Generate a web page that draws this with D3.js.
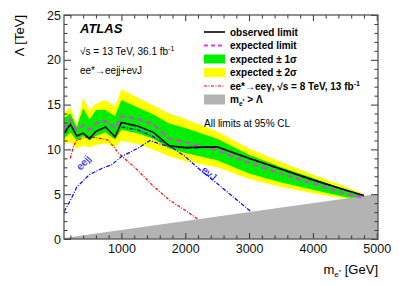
<!DOCTYPE html>
<html>
<head>
<meta charset="utf-8">
<script src="https://cdn.jsdelivr.net/npm/d3@7"></script>
<style>
  body { margin: 0; background: #fff; }
  svg { display: block; font-family: "Liberation Sans", Arial, Helvetica, sans-serif; }
  .axis line { stroke: #333; }
  .axis path { display: none; }
  .axis text { font-size: 12.5px; fill: #111; }
</style>
</head>
<body>
<div id="chart"></div>
<script>
// mass points (GeV) and limits on Lambda (TeV)
const mass     = [100, 200, 300, 400, 500, 600, 750, 900, 1000, 1250, 1500, 1750, 2000, 2500, 3000, 3500, 4000, 4500, 4800];
const observed = [11.8, 12.8, 11.5, 11.8, 11.2, 12.0, 12.5, 11.4, 13.0, 12.6, 11.9, 10.4, 10.2, 10.3, 9.0, 7.8, 6.6, 5.5, 4.85];
const expected = [12.3, 13.3, 12.2, 12.7, 12.2, 12.9, 13.2, 12.4, 13.7, 13.4, 12.8, 11.2, 10.8, 9.9, 8.5, 7.3, 6.2, 5.1, 4.55];
const sig2Up   = [14.1, 14.7, 12.8, 15.8, 14.4, 15.1, 15.5, 14.8, 16.7, 15.8, 14.9, 14.0, 13.4, 12.0, 10.1, 8.6, 7.2, 5.9, 5.0];
const sig1Up   = [13.5, 14.0, 12.5, 14.6, 13.3, 14.4, 14.4, 13.7, 15.5, 14.7, 13.9, 12.9, 12.4, 11.2, 9.4, 8.0, 6.8, 5.5, 4.85];
const sig1Dn   = [11.2, 11.9, 11.0, 11.5, 11.0, 11.5, 11.9, 11.1, 12.2, 11.8, 11.2, 10.1, 9.6, 8.8, 7.3, 6.3, 5.5, 4.7, 4.4];
const sig2Dn   = [10.6, 10.8, 10.1, 10.4, 10.2, 10.5, 10.7, 10.2, 11.0, 10.6, 10.0, 9.2, 8.7, 8.0, 6.7, 5.8, 5.1, 4.5, 4.3];

// 8 TeV ee* -> ee gamma limit
const run1Mass   = [200, 250, 300, 400, 500, 600, 700, 800, 900, 950, 1000, 1250, 1500, 1750, 2000, 2200];
const run1Lambda = [9.0, 10.4, 11.0, 11.3, 11.4, 11.3, 11.2, 11.0, 10.1, 9.6, 9.3, 7.7, 5.9, 4.35, 3.2, 2.2];

// individual channels
const eejjMass   = [100, 200, 300, 500, 700, 850, 1000, 1250, 1450, 1600, 1750, 2000, 2500, 3000, 3500, 4000, 4500, 4800];
const eejjLambda = [3.05, 4.3, 5.8, 7.2, 7.9, 8.3, 9.2, 10.1, 11.0, 10.6, 10.3, 10.15, 10.25, 8.95, 7.75, 6.55, 5.45, 4.8];
const evjMass    = [1000, 1250, 1500, 1750, 2000, 2250, 2500, 2750, 3030];
const evjLambda  = [12.5, 12.2, 11.4, 10.4, 9.2, 7.6, 6.2, 4.7, 3.05];

const xMajor = [1000, 2000, 3000, 4000, 5000];
const yMajor = [0, 5, 10, 15, 20, 25];

const W = 399, H = 286;
const L = 64, R = 378, T = 15, B = 239;
const x = d3.scaleLinear([100, 5020], [L, R]);
const y = d3.scaleLinear([0, 25], [B, T]);

const svg = d3.select("#chart").append("svg").attr("width", W).attr("height", H);
svg.append("defs").append("clipPath").attr("id", "clip")
  .append("rect").attr("x", L).attr("y", T).attr("width", R - L).attr("height", B - T);
const plot = svg.append("g").attr("clip-path", "url(#clip)");

const idx = d3.range(mass.length);
const band = (lo, hi) => d3.area()
  .x(i => x(mass[i])).y0(i => y(lo[i])).y1(i => y(hi[i]))(idx);

plot.append("path").attr("d", band(sig2Dn, sig2Up)).attr("fill", "#ffff00");
plot.append("path").attr("d", band(sig1Dn, sig1Up)).attr("fill", "#00ee00");

// region m_e* > Lambda
const xd = x.domain();
plot.append("path").attr("fill", "#b3b3b3")
  .attr("d", d3.line()([[x(xd[0]), y(xd[0] / 1000)], [x(xd[1]), y(xd[1] / 1000)],
                         [x(xd[1]), y(0)], [x(xd[0]), y(0)]]) + "Z");

const line = (xs, ys) => d3.line().x((_, i) => x(xs[i])).y(v => y(v))(ys);

plot.append("path").attr("d", line(run1Mass, run1Lambda))
  .attr("fill", "none").attr("stroke", "#ff0000").attr("stroke-width", 1.2)
  .attr("stroke-dasharray", "3,1.5,1,1.5");
plot.append("path").attr("d", line(eejjMass, eejjLambda))
  .attr("fill", "none").attr("stroke", "#0000ff").attr("stroke-width", 1.2)
  .attr("stroke-dasharray", "4,1.5,1,1.5");
plot.append("path").attr("d", line(evjMass, evjLambda))
  .attr("fill", "none").attr("stroke", "#0000ff").attr("stroke-width", 1.2)
  .attr("stroke-dasharray", "4,1.5,1,1.5");
plot.append("path").attr("d", line(mass, expected))
  .attr("fill", "none").attr("stroke", "#ee33ee").attr("stroke-width", 2)
  .attr("stroke-dasharray", "5,4");
plot.append("path").attr("d", line(mass, observed))
  .attr("fill", "none").attr("stroke", "#000").attr("stroke-width", 1.6);

// channel labels
svg.append("text").attr("transform", "translate(86,165) rotate(-48)")
  .attr("text-anchor", "middle").attr("font-size", 10).attr("fill", "#0000ff").text("eejj");
svg.append("text").attr("transform", "translate(207,176) rotate(40)")
  .attr("text-anchor", "middle").attr("font-size", 10).attr("fill", "#0000ff").text("eνJ");

// axes: ticks inward on all four sides
const minorX = d3.range(200, 5001, 200).filter(v => v % 1000);
const minorY = d3.range(1, 25).filter(v => v % 5);
svg.append("g").attr("class", "axis").attr("transform", `translate(0,${B})`)
  .call(d3.axisBottom(x).tickValues(xMajor).tickSize(-6).tickPadding(5).tickFormat(d3.format("d")));
svg.append("g").attr("class", "axis").attr("transform", `translate(0,${B})`)
  .call(d3.axisBottom(x).tickValues(minorX).tickSize(-3.5).tickFormat(""));
svg.append("g").attr("class", "axis").attr("transform", `translate(0,${T})`)
  .call(d3.axisTop(x).tickValues(xMajor).tickSize(-6).tickFormat(""));
svg.append("g").attr("class", "axis").attr("transform", `translate(0,${T})`)
  .call(d3.axisTop(x).tickValues(minorX).tickSize(-3.5).tickFormat(""));
svg.append("g").attr("class", "axis").attr("transform", `translate(${L},0)`)
  .call(d3.axisLeft(y).tickValues(yMajor).tickSize(-7).tickPadding(3));
svg.append("g").attr("class", "axis").attr("transform", `translate(${L},0)`)
  .call(d3.axisLeft(y).tickValues(minorY).tickSize(-3.5).tickFormat(""));
svg.append("g").attr("class", "axis").attr("transform", `translate(${R},0)`)
  .call(d3.axisRight(y).tickValues(yMajor).tickSize(-7).tickFormat(""));
svg.append("g").attr("class", "axis").attr("transform", `translate(${R},0)`)
  .call(d3.axisRight(y).tickValues(minorY).tickSize(-3.5).tickFormat(""));
svg.append("rect").attr("x", L).attr("y", T).attr("width", R - L).attr("height", B - T)
  .attr("fill", "none").attr("stroke", "#555").attr("stroke-width", 1.3);

// axis titles
svg.append("text").attr("transform", "translate(24,15) rotate(-90)")
  .attr("text-anchor", "end").attr("font-size", 13).text("Λ [TeV]");
const xt = svg.append("text").attr("x", R).attr("y", 274).attr("text-anchor", "end").attr("font-size", 13);
xt.append("tspan").text("m");
xt.append("tspan").attr("font-size", 8).attr("dy", 3).text("e");
xt.append("tspan").attr("font-size", 6).attr("dy", -3).text("*");
xt.append("tspan").attr("dy", 0).text(" [GeV]");

// ATLAS block
svg.append("text").attr("x", 80).attr("y", 33).attr("font-size", 13)
  .attr("font-weight", "bold").attr("font-style", "italic").text("ATLAS");
const rs = svg.append("text").attr("x", 80).attr("y", 55).attr("font-size", 10);
rs.append("tspan").text("√s = 13 TeV, 36.1 fb");
rs.append("tspan").attr("font-size", 7).attr("dy", -4).text("-1");
svg.append("text").attr("x", 80).attr("y", 74).attr("font-size", 10).text("ee*→eejj+eνJ");

// legend
const lx = 204, lw = 21, tx = 230, row = i => 32 + 13.5 * i;
const lg = svg.append("g").attr("font-size", 10).attr("font-weight", "bold");
lg.append("line").attr("x1", lx).attr("x2", lx + lw).attr("y1", row(0)).attr("y2", row(0))
  .attr("stroke", "#000").attr("stroke-width", 1.6);
lg.append("line").attr("x1", lx).attr("x2", lx + lw).attr("y1", row(1)).attr("y2", row(1))
  .attr("stroke", "#ee33ee").attr("stroke-width", 2).attr("stroke-dasharray", "4,3");
lg.append("rect").attr("x", lx).attr("y", row(2) - 4.5).attr("width", lw).attr("height", 9).attr("fill", "#00ee00");
lg.append("rect").attr("x", lx).attr("y", row(3) - 4.5).attr("width", lw).attr("height", 9).attr("fill", "#ffff00");
lg.append("line").attr("x1", lx).attr("x2", lx + lw).attr("y1", row(4)).attr("y2", row(4))
  .attr("stroke", "#ff0000").attr("stroke-width", 1.2).attr("stroke-dasharray", "3,1.5,1,1.5");
lg.append("rect").attr("x", lx).attr("y", row(5) - 5).attr("width", lw).attr("height", 10).attr("fill", "#b3b3b3");

const lt = (i) => lg.append("text").attr("x", tx).attr("y", row(i) + 3.5);
lt(0).text("observed limit");
lt(1).text("expected limit");
lt(2).text("expected ± 1σ");
lt(3).text("expected ± 2σ");
const r1 = lt(4);
r1.append("tspan").text("ee*→eeγ, √s = 8 TeV, 13 fb");
r1.append("tspan").attr("font-size", 7).attr("dy", -4).text("-1");
const r5 = lt(5);
r5.append("tspan").text("m");
r5.append("tspan").attr("font-size", 6.5).attr("dy", 2.5).text("e");
r5.append("tspan").attr("font-size", 5).attr("dy", -2.5).text("*");
r5.append("tspan").attr("dy", 0).text(" > Λ");

svg.append("text").attr("x", 204).attr("y", 127).attr("font-size", 10).text("All limits at 95% CL");
</script>
</body>
</html>
